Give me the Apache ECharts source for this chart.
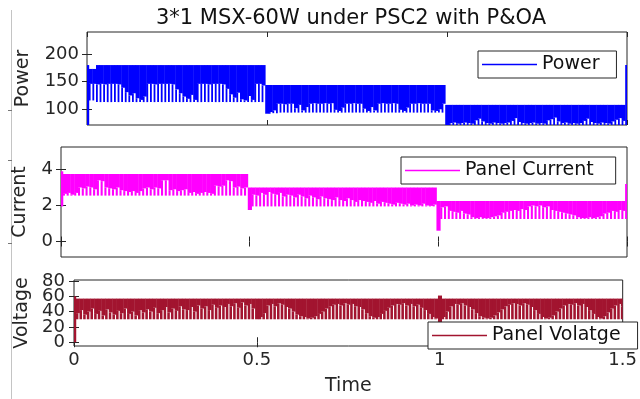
<!DOCTYPE html>
<html><head><meta charset="utf-8">
<script src="https://cdn.jsdelivr.net/npm/echarts@6/dist/echarts.min.js"></script>
<style>html,body{margin:0;padding:0;background:#fff}#c{width:640px;height:399px}</style>
</head><body><div id="c"></div>
<script>
const titleText = '3*1 MSX-60W under PSC2 with P&OA';
const xAxisName = 'Time';
const sampleStep = 0.01;           // one envelope sample every 0.01 s (0 ... 1.5 s)
const timeTicks = [0, 0.5, 1, 1.5];
const powerTicks = [100, 150, 200];
const currentTicks = [0, 2, 4];
const voltageTicks = [0, 20, 40, 60, 80];

// ---- Power (W): top of signal, top of white gaps, bottom of spikes ----
const powerHigh = [180,173,173,180,180,180,180,180,180,180, 180,180,180,180,180,180,180,180,180,180,
  180,180,180,180,180,180,180,180,180,180, 180,180,180,180,180,180,180,180,180,180,
  180,180,180,180,180,180,180,180,180,180, 144,144,144,144,144,144,144,144,144,144,
  144,144,144,144,144,144,144,144,144,144, 144,144,144,144,144,144,144,144,144,144,
  144,144,144,144,144,144,144,144,144,144, 144,144,144,144,144,144,144,144,144,144,
  108,108,108,108,108,108,108,108,108,108, 108,108,108,108,108,108,108,108,108,108,
  108,108,108,108,108,108,108,108,108,108, 108,108,108,108,108,108,108,108,108,108,
  108,108,108,108,108,108,108,108,108,108, 180];
const powerGap = [70,146,146,145,146,145,146,146,146,145, 139,131,125,129,120,117,123,146,146,145,
  146,146,146,146,145,136,129,123,119,126, 117,146,146,146,145,146,146,146,145,137,
  127,121,130,118,116,124,117,146,146,143, 92,95,98,110,110,109,110,110,102,108,
  98,104,110,111,110,110,111,110,111,99, 97,103,110,110,111,110,110,101,97,104,
  98,110,111,110,110,111,110,99,97,103, 110,110,111,110,110,110,98,97,100,110,
  70,75,76,74,75,76,75,74,80,83, 78,75,74,76,75,74,75,76,79,84,
  77,75,74,75,76,74,75,74,80,82, 85,78,75,76,74,75,74,75,79,83,
  77,75,74,76,75,74,78,81,84,79, 70];
const powerLow = [70,116,116,113,113,113,113,113,113,113, 113,113,113,113,113,113,113,113,113,113,
  113,113,113,113,113,113,113,113,113,113, 113,113,113,113,113,113,113,113,113,113,
  113,113,113,113,113,113,113,113,113,113, 92,92,93,93,94,94,94,94,94,94,
  94,94,94,94,94,94,94,94,94,94, 94,94,94,94,94,94,94,94,94,94,
  94,94,94,94,94,94,94,94,94,94, 94,94,94,94,94,94,94,94,94,94,
  70,70,70,70,70,70,70,70,70,70, 70,70,70,70,70,70,70,70,70,70,
  70,70,70,70,70,70,70,70,70,70, 70,70,70,70,70,70,70,70,70,70,
  70,70,70,70,70,70,70,70,70,70, 70];

// ---- Panel current (A) ----
const currentHigh = [3.9,3.75,3.75,3.75,3.75,3.75,3.75,3.75,3.75,3.75, 3.75,3.75,3.75,3.75,3.75,3.75,3.75,3.75,3.75,3.75,
  3.75,3.75,3.75,3.75,3.75,3.75,3.75,3.75,3.75,3.75, 3.75,3.75,3.75,3.75,3.75,3.75,3.75,3.75,3.75,3.75,
  3.75,3.75,3.75,3.75,3.75,3.75,3.75,3.75,3.75,3.75, 3.0,3.0,3.0,3.0,3.0,3.0,3.0,3.0,3.0,3.0,
  3.0,3.0,3.0,3.0,3.0,3.0,3.0,3.0,3.0,3.0, 3.0,3.0,3.0,3.0,3.0,3.0,3.0,3.0,3.0,3.0,
  3.0,3.0,3.0,3.0,3.0,3.0,3.0,3.0,3.0,3.0, 3.0,3.0,3.0,3.0,3.0,3.0,3.0,3.0,3.0,3.0,
  2.25,2.25,2.25,2.25,2.25,2.25,2.25,2.25,2.25,2.25, 2.25,2.25,2.25,2.25,2.25,2.25,2.25,2.25,2.25,2.25,
  2.25,2.25,2.25,2.25,2.25,2.25,2.25,2.25,2.25,2.25, 2.25,2.25,2.25,2.25,2.25,2.25,2.25,2.25,2.25,2.25,
  2.25,2.25,2.25,2.25,2.25,2.25,2.25,2.25,2.25,2.25, 3.2];
const currentGap = [1.95,2.65,2.7,2.6,2.7,3.0,2.95,3.05,3.0,2.9, 3.4,3.35,3.0,2.95,2.9,3.0,2.85,2.8,2.75,2.8,
  2.7,2.8,2.95,3.0,2.9,3.0,2.95,3.4,3.4,2.85, 2.9,2.8,2.85,2.9,2.7,2.75,2.65,2.7,2.75,2.7,
  2.65,3.1,3.05,3.1,3.4,3.35,3.0,3.05,2.95,3.0, 1.75,2.6,2.55,2.7,2.6,2.75,2.65,2.6,2.7,2.5,
  2.6,2.55,2.45,2.6,2.5,2.4,2.55,2.45,2.35,2.5, 2.4,2.35,2.3,2.45,2.3,2.25,2.4,2.3,2.2,2.3,
  2.25,2.2,2.15,2.25,2.1,2.2,2.15,2.1,2.05,2.15, 2.1,2.05,2.1,2.0,2.05,2.0,2.1,2.0,1.98,2.05,
  0.6,1.9,1.95,1.7,1.65,1.6,1.7,1.55,1.5,1.35, 1.3,1.35,1.3,1.3,1.35,1.4,1.45,1.6,1.65,1.7,
  1.75,1.7,1.8,1.75,1.95,2.0,1.95,2.0,1.9,1.95, 1.75,1.7,1.65,1.6,1.55,1.5,1.45,1.35,1.3,1.3,
  1.35,1.3,1.35,1.4,1.55,1.6,1.7,1.65,1.75,1.7, 1.25];
const currentLow = [1.95,2.55,2.55,2.55,2.55,2.55,2.55,2.55,2.55,2.55, 2.55,2.55,2.55,2.55,2.55,2.55,2.55,2.55,2.55,2.55,
  2.55,2.55,2.55,2.55,2.55,2.55,2.55,2.55,2.55,2.55, 2.55,2.55,2.55,2.55,2.55,2.55,2.55,2.55,2.55,2.55,
  2.55,2.55,2.55,2.55,2.55,2.55,2.55,2.55,2.55,2.55, 1.75,1.95,1.95,1.95,1.95,1.95,1.95,1.95,1.95,1.95,
  1.95,1.95,1.95,1.95,1.95,1.95,1.95,1.95,1.95,1.95, 1.95,1.95,1.95,1.95,1.95,1.95,1.95,1.95,1.95,1.95,
  1.95,1.95,1.95,1.95,1.95,1.95,1.95,1.95,1.95,1.95, 1.95,1.95,1.95,1.95,1.95,1.95,1.95,1.95,1.95,1.95,
  0.6,1.25,1.25,1.25,1.25,1.25,1.25,1.25,1.25,1.25, 1.25,1.25,1.25,1.25,1.25,1.25,1.25,1.25,1.25,1.25,
  1.25,1.25,1.25,1.25,1.25,1.25,1.25,1.25,1.25,1.25, 1.25,1.25,1.25,1.25,1.25,1.25,1.25,1.25,1.25,1.25,
  1.25,1.25,1.25,1.25,1.25,1.25,1.25,1.25,1.25,1.25, 1.25];

// ---- Panel voltage (V) ----
const voltageHigh = [60,57,57,57,57,57,57,57,57,57, 57,57,57,57,57,57,57,57,57,57,
  57,57,57,57,57,57,57,57,57,57, 57,57,57,57,57,57,57,57,57,57,
  57,57,57,57,57,57,57,57,57,57, 57,57,57,57,57,57,57,57,57,57,
  57,57,57,57,57,57,57,57,57,57, 57,57,57,57,57,57,57,57,57,57,
  57,57,57,57,57,57,57,57,57,57, 57,57,57,57,57,57,57,57,57,57,
  61,57,57,57,57,57,57,57,57,57, 57,57,57,57,57,57,57,57,57,57,
  57,57,57,57,57,57,57,57,57,57, 57,57,57,57,57,57,57,57,57,57,
  57,57,57,57,57,57,57,57,57,57, 57];
const voltageGap = [0,38,42,36,40,44,37,41,35,43, 39,36,41,38,44,37,40,35,42,39,
  43,40,45,38,42,46,39,44,41,47, 43,42,46,40,48,44,47,42,49,45,
  48,46,50,47,51,45,52,48,50,44, 30,33,38,48,50,47,51,49,46,44,
  40,36,34,33,31,32,34,37,40,44, 47,49,50,48,51,49,50,47,46,43,
  38,34,32,33,37,41,45,48,50,49, 51,48,50,47,49,45,42,37,33,31,
  25,33,40,47,50,49,51,48,46,43, 38,34,32,31,32,35,39,43,47,49,
  51,50,48,51,49,46,42,37,33,31, 32,35,40,44,48,50,49,51,48,50,
  46,42,37,33,31,34,39,44,48,50, 47];
const voltageLow = [0,30,30,30,30,30,30,30,30,30, 30,30,30,30,30,30,30,30,30,30,
  30,30,30,30,30,30,30,30,30,30, 30,30,30,30,30,30,30,30,30,30,
  30,30,30,30,30,30,30,30,30,30, 30,30,30,30,30,30,30,30,30,30,
  30,30,30,30,30,30,30,30,30,30, 30,30,30,30,30,30,30,30,30,30,
  30,30,30,30,30,30,30,30,30,30, 30,30,30,30,30,30,30,30,30,30,
  25,30,30,30,30,30,30,30,30,30, 30,30,30,30,30,30,30,30,30,30,
  30,30,30,30,30,30,30,30,30,30, 30,30,30,30,30,30,30,30,30,30,
  30,30,30,30,30,30,30,30,30,30, 30];

const FONT = 'DejaVu Sans';
const AX = '#262626';

function buildItems(low, gap, high) {
  return high.map((h, i) => [Math.round(i * sampleStep * 100) / 100, low[i], gap[i], h]);
}

function makeRender(stripeFrac) {
  return function (params, api) {
    const t = api.value(0);
    const half = sampleStep / 2;
    const pTL = api.coord([t - half, api.value(3)]);
    const pTR = api.coord([t + half, api.value(3)]);
    const pG = api.coord([t, api.value(2)]);
    const pL = api.coord([t, api.value(1)]);
    const cs = params.coordSys;
    const clip = { x: cs.x, y: cs.y, width: cs.width, height: cs.height };
    const w = pTR[0] - pTL[0];
    const style = { fill: api.visual('color') };
    const children = [];
    const solid = echarts.graphic.clipRectByRect({ x: pTL[0], y: pTL[1], width: w + 0.4, height: pG[1] - pTL[1] }, clip);
    const stripe = echarts.graphic.clipRectByRect({ x: pTL[0], y: pG[1], width: w * stripeFrac, height: pL[1] - pG[1] }, clip);
    if (solid) children.push({ type: 'rect', shape: solid, style });
    if (stripe) children.push({ type: 'rect', shape: stripe, style });
    return { type: 'group', children };
  };
}

const grids = [
  { left: 87, top: 32, width: 540, height: 93 },
  { left: 61, top: 147, width: 566, height: 110 },
  { left: 74, top: 280, width: 553, height: 66 }
];
const yRanges = [[71.6, 239.8], [-0.86, 5.25], [-4.9, 81.3]];
const yTickSets = [powerTicks, currentTicks, voltageTicks];
const yNames = ['Power', 'Current', 'Voltage'];
const yNameGaps = [54, 31, 40];
const yLabelMargins = [8, 8, 9];
const tickLabelStyle = { fontFamily: FONT, fontSize: 18, color: AX };

const xAxes = [], yAxes = [];
grids.forEach((g, k) => {
  xAxes.push({
    type: 'value', gridIndex: k, min: 0, max: 1.5, interval: 0.5, position: 'bottom',
    axisLine: { show: false }, splitLine: { show: false },
    axisTick: { show: true, inside: true, length: 5, customValues: timeTicks, lineStyle: { color: AX } },
    axisLabel: Object.assign({ show: k === 2, customValues: timeTicks, margin: 5, showMinLabel: true, showMaxLabel: true }, tickLabelStyle),
    name: k === 2 ? xAxisName : '', nameLocation: 'middle', nameGap: 31,
    nameTextStyle: { fontFamily: FONT, fontSize: 19, color: AX }
  });
  xAxes.push({
    type: 'value', gridIndex: k, min: 0, max: 1.5, interval: 0.5, position: 'top',
    axisLine: { show: false }, splitLine: { show: false }, axisLabel: { show: false },
    axisTick: { show: true, inside: true, length: 5, customValues: timeTicks, lineStyle: { color: AX } }
  });
  // tightly packed labels are split over two stacked axes so none is hidden as overlapping
  const ticks = yTickSets[k];
  const evenTicks = ticks.filter((v, i) => i % 2 === 0);
  const oddTicks = ticks.filter((v, i) => i % 2 === 1);
  yAxes.push({
    type: 'value', gridIndex: k, min: yRanges[k][0], max: yRanges[k][1], position: 'left',
    axisLine: { show: false }, splitLine: { show: false },
    axisTick: { show: true, inside: true, length: 5, customValues: ticks, lineStyle: { color: AX } },
    axisLabel: Object.assign({ customValues: evenTicks, margin: yLabelMargins[k], showMinLabel: true, showMaxLabel: true }, tickLabelStyle),
    name: yNames[k], nameLocation: 'middle', nameGap: yNameGaps[k], nameRotate: 90,
    nameTextStyle: { fontFamily: FONT, fontSize: 19, color: AX }
  });
  yAxes.push({
    type: 'value', gridIndex: k, min: yRanges[k][0], max: yRanges[k][1], position: 'right',
    axisLine: { show: false }, splitLine: { show: false }, axisLabel: { show: false },
    axisTick: { show: true, inside: true, length: 5, customValues: ticks, lineStyle: { color: AX } }
  });
  yAxes.push({
    type: 'value', gridIndex: k, min: yRanges[k][0], max: yRanges[k][1], position: 'left', offset: 0,
    axisLine: { show: false }, splitLine: { show: false }, axisTick: { show: false },
    axisLabel: Object.assign({ show: oddTicks.length > 0, customValues: oddTicks.length ? oddTicks : [ticks[0]],
      margin: yLabelMargins[k], showMinLabel: true, showMaxLabel: true }, tickLabelStyle)
  });
});

function legendFor(name, left, top, padRight) {
  return {
    data: [{ name: name, icon: 'rect' }], left: left, top: top, orient: 'horizontal',
    itemWidth: 55, itemHeight: 1.4, padding: [4, padRight, 4, 4],
    backgroundColor: '#fff', borderColor: AX, borderWidth: 1, borderRadius: 0,
    textStyle: { fontFamily: FONT, fontSize: 19, color: '#111', lineHeight: 17 },
    selectedMode: false
  };
}

const chart = echarts.init(document.getElementById('c'), null, { renderer: 'canvas' });
chart.setOption({
  animation: false,
  backgroundColor: '#fff',
  title: {
    text: titleText, left: 346, top: 3, textAlign: 'center',
    textStyle: { fontFamily: FONT, fontSize: 21, fontWeight: 'normal', color: '#111' }
  },
  grid: grids.map(g => Object.assign({ show: true, borderColor: AX, borderWidth: 1, backgroundColor: '#fff', containLabel: false }, g)),
  xAxis: xAxes,
  yAxis: yAxes,
  legend: [
    legendFor('Power', 478, 51, 17),
    legendFor('Panel Current', 401, 157, 22),
    legendFor('Panel Volatge', 428, 322, 17)
  ],
  series: [
    { name: 'Power', type: 'custom', xAxisIndex: 0, yAxisIndex: 0, itemStyle: { color: '#0000ff' },
      encode: { x: 0, y: [1, 2, 3] }, data: buildItems(powerLow, powerGap, powerHigh), renderItem: makeRender(0.5) },
    { name: 'Panel Current', type: 'custom', xAxisIndex: 2, yAxisIndex: 3, itemStyle: { color: '#ff00ff' },
      encode: { x: 0, y: [1, 2, 3] }, data: buildItems(currentLow, currentGap, currentHigh), renderItem: makeRender(0.55) },
    { name: 'Panel Volatge', type: 'custom', xAxisIndex: 4, yAxisIndex: 6, itemStyle: { color: '#a2142f' },
      encode: { x: 0, y: [1, 2, 3] }, data: buildItems(voltageLow, voltageGap, voltageHigh), renderItem: makeRender(0.7) }
  ],
  graphic: [
    { type: 'line', shape: { x1: 11.5, y1: 10, x2: 11.5, y2: 399 }, style: { stroke: '#c4c4c4', lineWidth: 1 }, silent: true },
    { type: 'line', shape: { x1: 8, y1: 110.5, x2: 12, y2: 110.5 }, style: { stroke: '#777', lineWidth: 1 }, silent: true },
    { type: 'line', shape: { x1: 8, y1: 160.5, x2: 12, y2: 160.5 }, style: { stroke: '#777', lineWidth: 1 }, silent: true },
    { type: 'line', shape: { x1: 8, y1: 243.5, x2: 12, y2: 243.5 }, style: { stroke: '#777', lineWidth: 1 }, silent: true }
  ]
});
</script></body></html>
